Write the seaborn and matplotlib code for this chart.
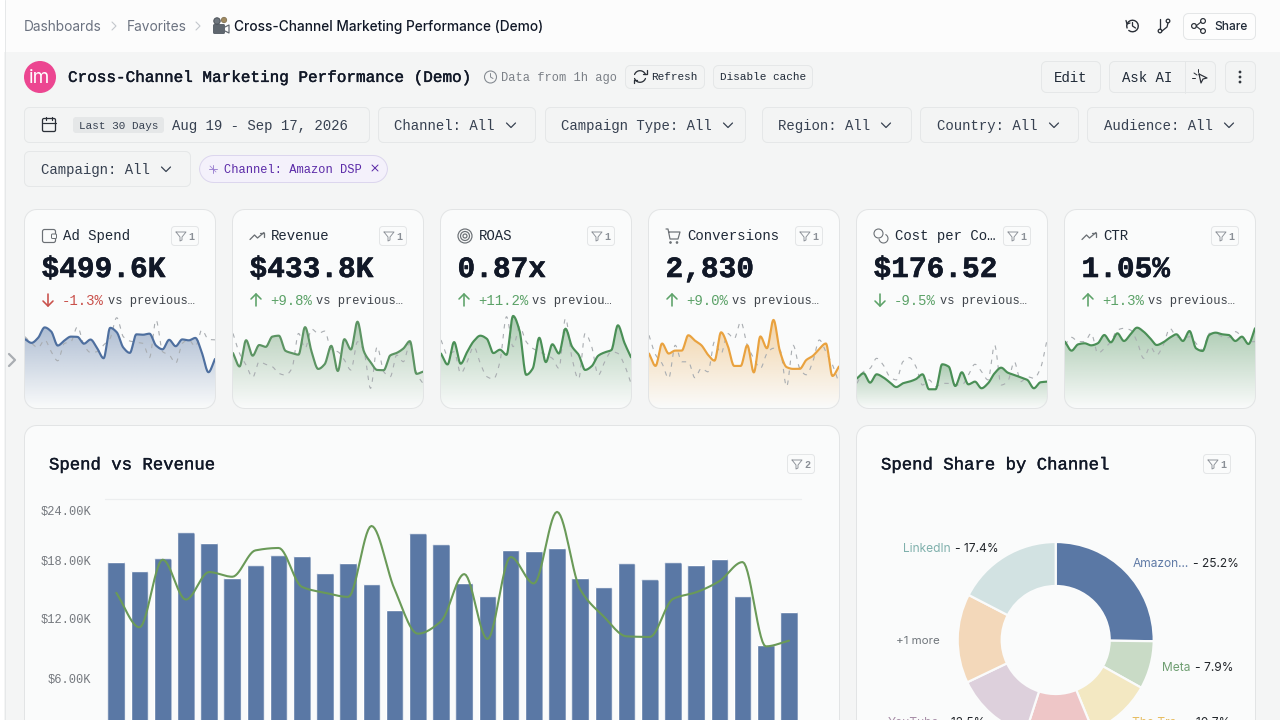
import numpy as np
import pandas as pd
import matplotlib
matplotlib.use("Agg")
import matplotlib.pyplot as plt
import matplotlib.patheffects as pe
from matplotlib.patches import Circle, PathPatch, FancyBboxPatch
from matplotlib.path import Path
from matplotlib.transforms import ScaledTranslation
import seaborn as sns

# ---------- data ----------
days = ["Aug %d" % d for d in (19, 20, 21, 22, 23, 24, 25, 26, 27, 28, 29, 30, 31)] + \
       ["Sep %d" % d for d in (1, 2, 3, 4, 5, 6, 7, 8, 9, 10, 11, 12, 13, 14, 15, 16, 17)]

spend = [17.67, 16.73, 18.01, 20.64, 19.60, 16.05, 17.30, 18.31, 18.25, 16.53,
         17.57, 15.41, 12.85, 20.54, 19.43, 15.55, 14.20, 18.89, 18.79, 19.06,
         16.05, 15.11, 17.50, 15.89, 17.61, 17.37, 17.98, 14.20, 9.31, 12.65]
revenue = [14.54, 11.06, 17.88, 13.86, 16.63, 16.16, 18.82, 19.06, 15.14, 14.54,
           14.13, 21.28, 14.87, 10.42, 11.67, 16.43, 9.88, 18.15, 15.48, 22.70,
           14.87, 12.18, 10.15, 10.09, 13.93, 14.60, 15.72, 17.64, 9.14, 9.71]
roas = [.823, .661, .993, .672, .848, 1.007, 1.088, 1.041, .830, .880,
        .804, 1.381, 1.157, .507, .601, 1.057, .696, .961, .824, 1.191,
        .926, .806, .580, .635, .791, .841, .874, 1.242, .982, .768]
conversions = [94, 73, 111, 94, 99, 99, 125, 116, 108, 92, 82, 130, 108, 73, 73,
               108, 62, 123, 103, 151, 97, 71, 68, 68, 83, 90, 102, 111, 56, 72]
cost_per_conv = [180, 210, 155, 204, 186, 157, 129, 151, 161, 176, 204, 116, 116, 263, 249,
                 135, 216, 145, 161, 122, 151, 210, 243, 214, 200, 186, 171, 122, 157, 161]
ctr = [1.025, .888, .984, 1.0, .969, 1.0, 1.126, 1.015, 1.152, 1.035,
       1.137, 1.238, 1.177, 1.076, .974, 1.015, 1.086, 1.137, 1.035, 1.187,
       .923, .883, 1.126, 1.162, 1.137, 1.126, 1.035, 1.101, .989, 1.228]

spend_prev = [18.3, 16.6, 15.5, 17.5, 14.5, 12.2, 16.6, 17.0, 20.8, 16.2,
              14.3, 14.5, 16.2, 17.9, 23.1, 18.3, 17.2, 16.9, 16.6, 13.0,
              22.5, 14.5, 13.7, 11.6, 16.6, 17.5, 15.8, 20.0, 17.6, 17.5]
revenue_prev = [19.65, 14.46, 11.43, 8.23, 12.29, 11.6, 11.0, 9.26, 8.83, 10.56,
                19.65, 15.76, 20.78, 19.65, 20.26, 15.32, 14.89, 12.73, 10.13, 17.49,
                14.89, 5.37, 16.19, 9.7, 8.4, 14.03, 12.29, 17.06, 9.26, 6.67]
roas_prev = [1.024, .801, .851, .529, .702, .925, .678, .480, .445, .702,
             1.370, .925, 1.222, .999, .900, .851, .801, .752, .603, 1.345,
             .752, .445, 1.123, .925, .504, .702, .851, .826, .653, .381]
conversions_prev = [125, 92, 77, 52, 108, 80, 80, 53, 69, 63, 114, 94, 128, 119, 148,
                    108, 86, 69, 94, 103, 100, 38, 108, 69, 58, 80, 117, 97, 75, 44]
cost_per_conv_prev = [151, 220, 239, 298, 259, 190, 171, 278, 302, 249, 141, 171, 131, 151, 151,
                      141, 141, 200, 263, 220, 171, 376, 141, 161, 278, 161, 190, 180, 239, 406]
ctr_prev = [.974, 1.091, 1.025, 1.025, 1.152, .847, .923, 1.025, 1.202, 1.228,
            1.202, 1.025, .771, .949, .822, .974, 1.228, 1.101, 1.076, 1.101,
            1.0, .898, 1.152, 1.152, 1.101, 1.086, 1.177, 1.101, 1.025, 1.025]

kpi_labels = ["Ad Spend", "Revenue", "ROAS", "Conversions", "Cost per Co…", "CTR"]
kpi_values = ["$499.6K", "$433.8K", "0.87x", "2,830", "$176.52", "1.05%"]
kpi_deltas = ["-1.3%", "+9.8%", "+11.2%", "+9.0%", "-9.5%", "+1.3%"]
kpi_notes = ["vs previous…", "vs previous…", "vs previou…", "vs previous…", "vs previous…", "vs previous…"]
kpi_icons = ["wallet", "trend", "target", "cart", "coins", "trend"]
kpi_current = [spend, revenue, roas, conversions, cost_per_conv, ctr]
kpi_previous = [spend_prev, revenue_prev, roas_prev, conversions_prev, cost_per_conv_prev, ctr_prev]
kpi_ymax = [25.3, 26.0, 1.484, 169.5, 588, 1.522]
kpi_colors = ["#4e6f9f", "#5c9463", "#4a8f56", "#e9a23f", "#4a8f56", "#4a8f56"]
kpi_delta_colors = ["#c9504a", "#5ca268", "#5ca268", "#5ca268", "#5ca268", "#5ca268"]

y_ticks = [6, 12, 18, 24]
y_tick_labels = ["$6.00K", "$12.00K", "$18.00K", "$24.00K"]

share_names = ["Amazon...", "Meta", "The Tra...", "Pinterest", "YouTube", "Other", "LinkedIn"]
share_values = [25.2, 7.9, 10.7, 11.2, 12.9, 14.7, 17.4]
share_colors = ["#5a78a5", "#c9dbc6", "#f3e8c2", "#eec6c7", "#ddd0dc", "#f3d8ba", "#d2e2e2"]

# ---------- theme ----------
sns.set_theme(style="white")
MONO = "Liberation Mono"
SANS = "Inter"
BODY = "#f4f5f5"
CARD = "#fafbfb"
EDGE = "#e5e7e8"
BTN = "#f3f4f4"
BLUE = "#5a78a5"
GREEN = "#6a9a58"
INK = "#111827"

fig = plt.figure(figsize=(12.8, 7.2), dpi=100, facecolor="#ffffff")


def px_axes(x0, y0, x1, y1, z=1):
    return fig.add_axes([x0 / 1280, (720 - y1) / 720, (x1 - x0) / 1280, (y1 - y0) / 720], zorder=z)


def canvas(z):
    a = px_axes(0, 0, 1280, 720, z)
    a.set_xlim(0, 1280)
    a.set_ylim(720, 0)
    a.axis("off")
    a.patch.set_alpha(0)
    return a


ui = canvas(0)
top = canvas(5)


def rr_verts(x0, y0, x1, y1, r):
    pts = []
    u = np.linspace(0, np.pi / 2, 9)
    for cx, cy, s in ((x1 - r, y0 + r, -np.pi / 2), (x1 - r, y1 - r, 0), (x0 + r, y1 - r, np.pi / 2), (x0 + r, y0 + r, np.pi)):
        pts += [(cx + r * np.cos(a + s), cy + r * np.sin(a + s)) for a in u]
    pts.append(pts[0])
    return np.array(pts)


def rr(a, x0, y0, x1, y1, r, fc, ec=None, lw=1.0, z=1):
    if ec:  # a one pixel stroke sits inside the box, on whole pixels
        x0, y0, x1, y1 = x0 + 0.5, y0 + 0.5, x1 - 0.5, y1 - 0.5
    a.add_patch(PathPatch(Path(rr_verts(x0, y0, x1, y1, r)), facecolor=fc, edgecolor=ec or "none",
                          linewidth=lw * 0.72, zorder=z))


def t(x, y, s, px=14, color=INK, fam=MONO, ha="left", w="normal", stroke=0, a=None):
    art = (a or ui).text(x, y + 0.35 * px, s, fontsize=px * 0.72, color=color, family=fam, ha=ha,
                         va="baseline", weight=w, zorder=4)
    if stroke:
        art.set_path_effects([pe.withStroke(linewidth=stroke, foreground=color)])
    return art


def pl(xs, ys, color="#374151", lw=1.3, a=None, z=3):
    (a or ui).plot(xs, ys, color=color, lw=lw * 0.72, solid_capstyle="round", solid_joinstyle="round", zorder=z)


def ring(x, y, r, color="#374151", lw=1.3, fc="none"):
    ui.add_patch(Circle((x, y), r, fc=fc, ec=color, lw=lw * 0.72, zorder=3))


def arc(x, y, r, a0, a1, color="#2b3038", lw=1.3):
    u = np.radians(np.linspace(a0, a1, 16))
    pl(x + r * np.cos(u), y + r * np.sin(u), color, lw)


def chevron(x, y, color="#374151"):
    pl([x - 4.5, x, x + 4.5], [y - 2, y + 2.5, y - 2], color, 1.25)


def funnel(x, y, color="#8a8f96"):
    pl([x - 5, x + 5, x + 1, x + 1, x - 1, x - 1, x - 5], [y - 4, y - 4, y + 1, y + 4, y + 5, y + 1, y - 4], color, 0.9)


def badge(x0, y0, n):
    rr(ui, x0, y0, x0 + 28, y0 + 20, 3, "none", "#e4e6e7", 1.0)
    funnel(x0 + 10, y0 + 10)
    t(x0 + 17, y0 + 10, n, 10, "#8a8f96", w="bold")


def up_down(x, y, up, color):
    d = -1 if up else 1
    pl([x, x], [y - d * 6, y + d * 6], color, 1.6)
    pl([x - 5, x, x + 5], [y + d * 1, y + d * 6, y + d * 1], color, 1.6)


def icon(kind, x, y):
    c = "#6b7075"
    if kind == "wallet":
        rr(ui, x - 7, y - 7, x + 7, y + 7, 2, "none", c, 1.2)
        rr(ui, x + 2, y - 2.5, x + 8, y + 3, 1, CARD, c, 1.0)
    elif kind == "trend":
        pl([x - 7, x - 2.5, x + 0.5, x + 7], [y + 3.5, y - 1, y + 2, y - 3.5], c, 1.3)
        pl([x + 3, x + 7, x + 7], [y - 3.5, y - 3.5, y + 0.5], c, 1.3)
    elif kind == "target":
        for r in (7, 4.5, 2):
            ring(x, y, r, c, 1.2)
    elif kind == "cart":
        pl([x - 7, x - 5, x - 3, x + 5, x + 7, x - 4.3], [y - 7, y - 7, y + 3, y + 3, y - 4, y - 4], c, 1.2)
        ring(x - 2.5, y + 6.5, 0.8, c, 1.0, c)
        ring(x + 4, y + 6.5, 0.8, c, 1.0, c)
    elif kind == "coins":
        ring(x - 2.5, y - 2.5, 4.5, c, 1.1)
        arc(x + 2.5, y + 2.5, 4.5, -60, 170, c, 1.1)


def monotone(y, n=14):
    """Monotone cubic drawing of the given series, the way the chart's smooth line runs."""
    y = np.asarray(y, float)
    d = np.diff(y)
    m = np.zeros_like(y)
    m[0], m[-1] = d[0], d[-1]
    for i in range(1, len(y) - 1):
        if d[i - 1] * d[i] > 0:
            m[i] = 2 * d[i - 1] * d[i] / (d[i - 1] + d[i])
    xs, ys = [], []
    for i in range(len(y) - 1):
        u = np.linspace(0, 1, n, endpoint=False)
        h00 = 2 * u**3 - 3 * u**2 + 1
        h10 = u**3 - 2 * u**2 + u
        h01 = -2 * u**3 + 3 * u**2
        h11 = u**3 - u**2
        xs.append(i + u)
        ys.append(h00 * y[i] + h10 * m[i] + h01 * y[i + 1] + h11 * m[i + 1])
    return np.append(np.concatenate(xs), len(y) - 1), np.append(np.concatenate(ys), y[-1])


# ---------- page chrome ----------
ui.add_patch(plt.Rectangle((4, 52), 1276, 668, fc=BODY, ec="none", zorder=0))
ui.add_patch(plt.Rectangle((5, 0), 1275, 52, fc="#fcfcfc", ec="none", zorder=0))
pl([4.5, 4.5], [0, 720], "#e6e8e9", 1.0)
pl([9, 15, 9], [354, 360, 366], "#a9adb2", 2.2)

t(24, 26, "Dashboards", 13.7, "#6b7280", SANS)
pl([112, 116, 112], [22, 26, 30], "#c3c7cc", 1.1)
t(127, 26, "Favorites", 13.7, "#6b7280", SANS)
pl([196, 200, 196], [22, 26, 30], "#c3c7cc", 1.1)
rr(ui, 213, 24, 225, 34, 1.5, "#5f666e")
ring(217, 21, 3.2, "#4b5158", 1, "#6f767e")
ring(224, 20, 2.6, "#8a7a5c", 1, "#a08a60")
pl([225, 229, 229, 225], [27, 25, 33, 31], "#5f666e", 1.2)
t(234, 26, "Cross-Channel Marketing Performance (Demo)", 13.7, INK, SANS, w="medium")

arc(1132.5, 26, 5.8, -200, 130, "#2b3038", 1.4)
pl([1132.5, 1132.5, 1135.5], [22.5, 26, 28], "#2b3038", 1.3)
pl([1126, 1127, 1130], [20.5, 24, 23], "#2b3038", 1.3)
ring(1160, 31, 1.8, "#2b3038", 1.3)
ring(1168, 21, 1.8, "#2b3038", 1.3)
pl([1160, 1160], [19, 29], "#2b3038", 1.3)
pl([1168, 1167, 1162], [23, 27, 31], "#2b3038", 1.3)
rr(ui, 1183, 13, 1256, 40, 5, "#fdfdfd", "#e4e6e7")
for cx, cy in ((1194, 26), (1203, 21), (1203, 31)):
    ring(cx, cy, 2.4, "#2b3038", 1.2)
pl([1201, 1196, 1201], [22, 26, 30], "#2b3038", 1.1)
t(1214, 26, "Share", 12, "#1f2937", SANS, w="medium")

ui.add_patch(Circle((40, 77), 16, fc="#ec4691", ec="none", zorder=2))
t(40, 76, "im", 19, "#ffffff", SANS, ha="center")
t(68, 76.3, "Cross-Channel Marketing Performance (Demo)", 16, INK, stroke=0.3)
ring(490.5, 77, 6, "#858b92", 1.1)
pl([490.5, 490.5, 493], [73.5, 77, 78.5], "#858b92", 1.0)
t(501, 77, "Data from 1h ago", 12, "#7b8087")

rr(ui, 625, 65, 705, 89, 5, BTN, EDGE)
arc(640, 76.5, 5.8, 200, 340)
arc(640, 76.5, 5.8, 20, 160)
pl([643, 646.5, 646.5], [73.5, 73.5, 70], "#2b3038", 1.3)
pl([637, 633.5, 633.5], [79.5, 79.5, 83], "#2b3038", 1.3)
t(651, 76.5, "Refresh", 11, "#1f2937")
rr(ui, 713, 65, 813, 89, 5, BTN, EDGE)
t(720, 76.5, "Disable cache", 11, "#1f2937")
rr(ui, 1041, 61, 1101, 93, 5, BTN, EDGE)
t(1054, 77, "Edit", 14, "#1f2937")
rr(ui, 1109, 61, 1216, 93, 5, BTN, EDGE)
pl([1184.5, 1184.5], [61, 93], EDGE, 1.0)
t(1122, 77, "Ask AI", 14, "#1f2937")
pl([1199, 1207, 1203, 1201, 1199], [74, 78, 79, 83, 74], "#2b3038", 1.2)
pl([1194, 1197], [73, 75], "#2b3038", 1.0)
pl([1198, 1198], [69, 72], "#2b3038", 1.0)
pl([1192, 1195], [78, 78], "#2b3038", 1.0)
rr(ui, 1225, 61, 1256, 93, 5, BTN, EDGE)
for cy in (72, 77, 82):
    ring(1240, cy, 0.9, "#2b3038", 1.0, "#2b3038")

# filter row
rr(ui, 24, 107, 370, 143, 5, BTN, EDGE)
rr(ui, 42, 118, 56, 132, 1.5, "none", "#2b3038", 1.3)
pl([42.5, 55.5], [122.5, 122.5], "#2b3038", 1.2)
pl([46, 46], [116.5, 119.5], "#2b3038", 1.2)
pl([52, 52], [116.5, 119.5], "#2b3038", 1.2)
rr(ui, 73, 117, 164, 133, 3, "#e5e7e8")
t(79, 125, "Last 30 Days", 11, "#374151")
t(172, 125, "Aug 19 - Sep 17, 2026", 14, "#374151")
filter_boxes = [(378, 536, "Channel: All", 394, 511), (545, 746, "Campaign Type: All", 561, 728),
                (762, 912, "Region: All", 778, 886), (920, 1079, "Country: All", 937, 1054),
                (1087, 1254, "Audience: All", 1104, 1229)]
for x0, x1, s, tx, cx in filter_boxes:
    rr(ui, x0, 107, x1, 143, 5, BTN, EDGE)
    t(tx, 125, s, 14, "#374151")
    chevron(cx, 125)
rr(ui, 24, 151, 191, 187, 5, BTN, EDGE)
t(41, 169, "Campaign: All", 14, "#374151")
chevron(166, 169)
rr(ui, 199, 155, 388, 183, 14, "#f4f1fb", "#dcd6ee")
t(224, 169, "Channel: Amazon DSP", 12, "#5b2aa8")
pl([209, 217], [169, 169], "#9a7fd1", 0.9)
pl([213, 213], [165, 173], "#9a7fd1", 0.9)
pl([210, 216], [166, 172], "#9a7fd1", 0.7)
pl([372, 378], [165, 171], "#5b2aa8", 1.0)
pl([372, 378], [171, 165], "#5b2aa8", 1.0)

# ---------- cards ----------
cards = [(24 + 208 * i, 209, 216 + 208 * i, 409, 12) for i in range(6)] + \
        [(24, 425, 840, 760, 12), (856, 425, 1256, 760, 12)]
for x0, y0, x1, y1, r in cards:
    rr(ui, x0, y0, x1, y1, r, CARD)

for i in range(6):
    x0 = 24 + 208 * i
    icon(kpi_icons[i], x0 + 25, 236)
    t(x0 + 39, 235.5, kpi_labels[i], 14, "#1f2937")
    badge(x0 + 147, 226, "1")
    t(x0 + 17.5, 266.7, kpi_values[i], 29.5, INK, w="bold", stroke=0.35)
    up_down(x0 + 24, 300, kpi_deltas[i][0] == "+", kpi_delta_colors[i])
    t(x0 + 38, 300, kpi_deltas[i], 14, kpi_delta_colors[i])
    t(x0 + 38 + 8.4 * len(kpi_deltas[i]) + 4, 300, kpi_notes[i], 12, "#3f444b")

    ax = px_axes(x0 + 1, 309, x0 + 191, 409, 2)
    xs, ys = monotone(kpi_current[i])
    px_, py_ = monotone(kpi_previous[i])
    fill = ax.fill_between(xs, ys, 0, color="none", lw=0)
    rgba = np.ones((256, 1, 4))
    rgba[:, :, :3] = matplotlib.colors.to_rgb(kpi_colors[i])
    rgba[:, :, 3] = np.linspace(0.44, 0.0, 256)[:, None]
    im = ax.imshow(rgba, extent=[0, 29, 0, max(kpi_current[i])], aspect="auto", interpolation="bilinear", zorder=1)
    im.set_clip_path(fill.get_paths()[0], transform=ax.transData)
    sns.lineplot(x=px_, y=py_, ax=ax, color="#a9adb1", lw=0.8, linestyle=(0, (4, 5)), errorbar=None, estimator=None, zorder=2)
    sns.lineplot(x=xs, y=ys, ax=ax, color=kpi_colors[i], lw=1.55, errorbar=None, estimator=None, zorder=3)
    ax.set_xlim(0, 29)
    ax.set_ylim(0, kpi_ymax[i])
    ax.axis("off")

# corners and borders above the sparkline areas
for x0, y0, x1, y1, r in cards:
    outer = np.array([(x0 - 1, y0 - 1), (x0 - 1, y1 + 1), (x1 + 1, y1 + 1), (x1 + 1, y0 - 1), (x0 - 1, y0 - 1)])
    hole = rr_verts(x0, y0, x1, y1, r)
    top.add_patch(PathPatch(Path.make_compound_path(Path(outer), Path(hole)), fc=BODY, ec="none", zorder=1))
    rr(top, x0, y0, x1, y1, r, "none", "#e2e4e5", 1.0, z=2)

# ---------- spend vs revenue ----------
t(49, 463.4, "Spend vs Revenue", 17.3, INK, stroke=0.25)
badge(787, 454, "2")
bar_ax = px_axes(104.7, 499, 800.6, 737, 2)
bar_ax.patch.set_alpha(0)
frame = pd.DataFrame({"day": days, "spend": spend})
sns.barplot(data=frame, x="day", y="spend", color=BLUE, saturation=1, width=0.76, errorbar=None, ax=bar_ax, zorder=2)
for bar in bar_ax.patches:
    clip = FancyBboxPatch((bar.get_x(), bar.get_y()), bar.get_width(), bar.get_height(),
                          boxstyle="round,pad=0,rounding_size=0.1", mutation_aspect=2.35,
                          transform=bar_ax.transData)
    bar.set_clip_path(clip)
lx, ly = monotone(revenue)
sns.lineplot(x=lx, y=ly, ax=bar_ax, color=GREEN, lw=1.5, errorbar=None, estimator=None, zorder=3)
bar_ax.set_xlim(-0.5, 29.5)
bar_ax.set_ylim(0, 24)
bar_ax.set_xlabel("")
bar_ax.set_ylabel("")
bar_ax.set_yticks(y_ticks)
bar_ax.set_yticklabels(y_tick_labels)
bar_ax.tick_params(axis="x", bottom=False, labelbottom=False)
bar_ax.tick_params(axis="y", left=False, length=0, pad=9.5, labelsize=12 * 0.72, labelcolor="#75797f")
bar_ax.grid(False)
bar_ax.axhline(y_ticks[-1], color="#eceeef", lw=0.9, clip_on=False, zorder=1)
sns.despine(ax=bar_ax, left=True, bottom=True, top=True, right=True)
for lab, off in zip(bar_ax.get_yticklabels(), (0.5, 0.5, 2, 11)):
    lab.set_family(MONO)
    lab.set_transform(lab.get_transform() + ScaledTranslation(0, -off / 100, fig.dpi_scale_trans))

# ---------- spend share ----------
t(881, 463.4, "Spend Share by Channel", 17.3, INK, stroke=0.25)
badge(1203, 454, "1")
R, lim = 98, 1.2
pie_ax = px_axes(1055.7 - R * lim, 640 - R * lim, 1055.7 + R * lim, 640 + R * lim, 2)
pie_ax.pie(share_values, colors=share_colors, startangle=90, counterclock=False, radius=1,
           wedgeprops=dict(width=44 / 98, edgecolor=CARD, linewidth=1.6))
pie_ax.set_xlim(-lim, lim)
pie_ax.set_ylim(-lim, lim)

labels = [(1133, 563, "Amazon...", "#5f7aa6", 1193, "- 25.2%"), (1162, 667, "Meta", "#6f9f72", 1195, "- 7.9%"),
          (903, 548, "LinkedIn", "#7fb0ac", 955, "- 17.4%"), (1132, 721.5, "The Tra...", "#e6bd62", 1187, "- 10.7%"),
          (888, 721.5, "YouTube", "#a88fa8", 942, "- 12.5%")]
for x, y, a_, c, x2, b_ in labels:
    t(x, y, a_, 12, c, SANS, a=top)
    t(x2, y, b_, 12, "#22262b", SANS, a=top)
t(896, 640, "+1 more", 11.5, "#6f757b", SANS, a=top)

fig.savefig("out.png", dpi=100)
